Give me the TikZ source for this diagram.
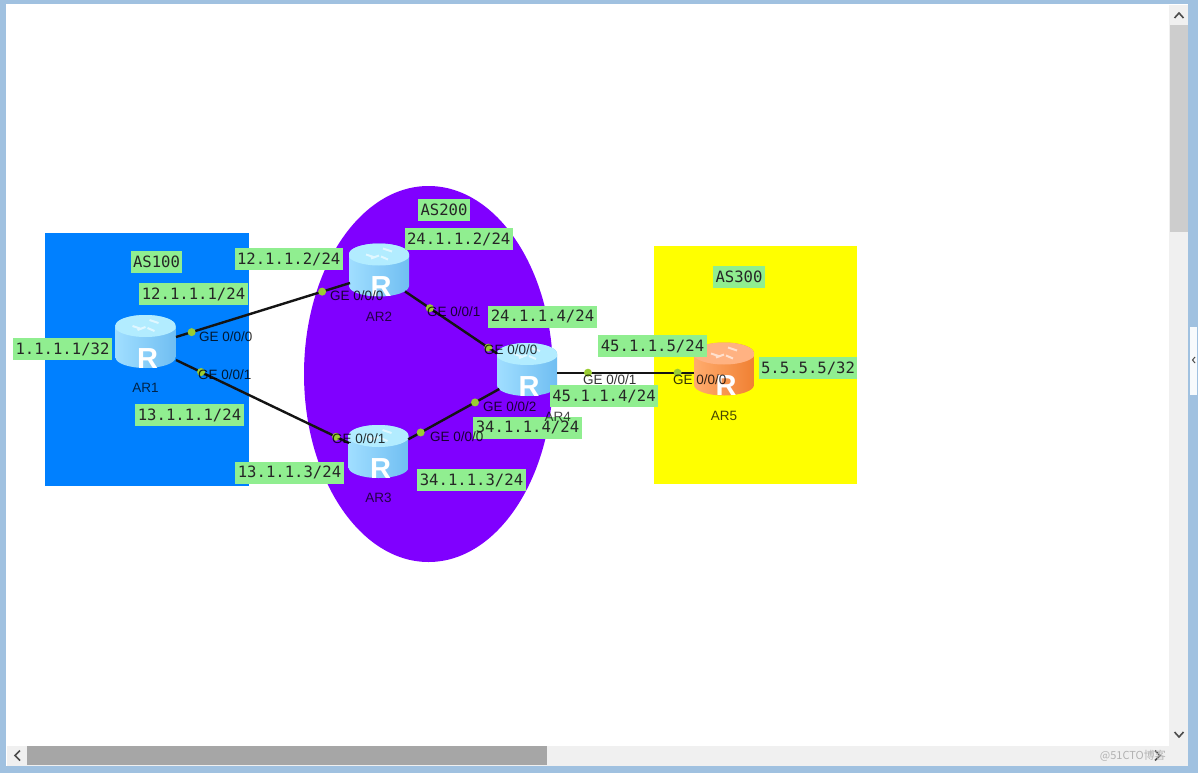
\documentclass[tikz,border=0pt]{standalone}
\usepackage{fontspec}
\setmainfont{Liberation Sans}
\setsansfont{Liberation Sans}
\newfontfamily\ipfont{DejaVu Sans Mono}
\newfontfamily\cjk{Noto Sans CJK SC}
\usetikzlibrary{positioning,shapes.geometric}
\definecolor{winB}{RGB}{160,193,224}
\definecolor{barG}{RGB}{240,240,240}
\definecolor{thumbV}{RGB}{205,205,205}
\definecolor{thumbH}{RGB}{166,166,166}
\definecolor{asBlue}{RGB}{0,128,255}
\definecolor{asPurple}{RGB}{128,0,255}
\definecolor{asYel}{RGB}{255,255,0}
\definecolor{ipG}{RGB}{144,238,144}
\definecolor{portG}{RGB}{154,205,50}
\definecolor{rtBlueL}{RGB}{160,222,255}
\definecolor{rtBlueR}{RGB}{112,190,242}
\definecolor{rtBlueT}{RGB}{178,236,255}
\definecolor{rtOrgL}{RGB}{255,172,110}
\definecolor{rtOrgR}{RGB}{240,128,50}
\definecolor{rtOrgT}{RGB}{255,178,130}

\begin{document}
\begin{tikzpicture}[x=1pt,y=-1pt,font=\sffamily]
  \tikzset{zone/.style={inner sep=0,outer sep=0},
    rtr/.style={cylinder,anchor=shape center,shape border rotate=90,aspect=.85,minimum width=60,minimum height=53,inner sep=0,outer sep=0,text=white,font=\bfseries\fontsize{29}{29}\selectfont,
      path picture={
        \shade[left color=#1L,right color=#1R] (path picture bounding box.south west) rectangle (path picture bounding box.north east);
        \fill[#1T] ([yshift=-11pt]path picture bounding box.north) ellipse [x radius=31pt,y radius=11pt];
        \draw[white,opacity=.6,line width=2pt] ([shift={(-13pt,-11pt)}]path picture bounding box.north) -- ++(9pt,-3pt) ([shift={(13pt,-8pt)}]path picture bounding box.north) -- ++(-9pt,3pt) ([shift={(-8pt,-15pt)}]path picture bounding box.north) -- ++(8pt,3pt) ([shift={(9pt,-16pt)}]path picture bounding box.north) -- ++(-7pt,3pt);
      }},
    link/.style={line width=2.4pt,black!92},
    port/.style={circle,fill=portG,inner sep=0,minimum size=8},
    ip/.style={fill=ipG,font=\ipfont\fontsize{15.6}{17}\selectfont,text=black!85,inner xsep=2.5,inner ysep=0,minimum height=22},
    ge/.style={anchor=west,inner sep=0,font=\sffamily\fontsize{13.5}{15}\selectfont,text=black,text opacity=.8},
    rname/.style={inner sep=0,font=\sffamily\fontsize{13.5}{15}\selectfont,text=black,text opacity=.72}}
  \useasboundingbox (0,0) rectangle (1198,773);
  % window
  \fill[winB] (0,0) rectangle (1198,773);
  \fill[white] (6,4) rectangle (1188,766);
  \fill[barG] (1169,5) rectangle (1188,746);
  \fill[barG] (7,746) rectangle (1188,766);
  \fill[thumbV] (1170,25) rectangle (1188,232);
  \fill[thumbH] (27,746) rectangle (547,765);
  \fill[white!92!winB] (1190,327) rectangle (1197,395);
  \draw[black!70,line width=1.6pt] (1174.5,18) -- (1179,13) -- (1183.5,18);
  \draw[black!70,line width=1.6pt] (1174.5,732) -- (1179,737) -- (1183.5,732);
  \draw[black!70,line width=1.6pt] (20,750.5) -- (15,755.5) -- (20,760.5);
  \draw[black!70,line width=1.6pt] (1155,750.5) -- (1160,755.5) -- (1155,760.5);
  \draw[black!70,line width=1pt] (1195,357) -- (1192.5,360) -- (1195,363);
  % AS areas
  \node[zone,fill=asBlue,minimum width=203.5,minimum height=253] (as100) at (146.75,359.5) {};
  \node[zone,ellipse,fill=asPurple,minimum width=249,minimum height=376] (as200) at (428.5,374) {};
  \node[zone,fill=asYel,minimum width=203,minimum height=238] (as300) at (755.5,365) {};
  % routers
  \foreach \n/\x/\y/\c in {ar1/145.5/341.5/rtBlue,ar2/379/270/rtBlue,ar3/378.5/451.5/rtBlue,ar4/527/369.5/rtBlue,ar5/724/369/rtOrg} {
    \node[rtr=\c] (\n) at (\x,\y) {\smash{\raisebox{-21.5pt}{\kern4pt R}}};
  }
  % links
  \foreach \a/\oa/\b/\ob/\pa/\pb in {ar1/{30.5,-4.5}/ar2/{-29,13}/.09/.84,ar1/{30.5,18.5}/ar3/{-29.5,-8.5}/.145/.925,ar2/{26,21.4}/ar4/{-30,-16}/.27/.905,ar3/{29.8,-12.2}/ar4/{-27.7,19.5}/.136/.733,ar4/{30,3.2}/ar5/{-30,3.7}/.226/.88} {
    \draw[link] ([shift={(\oa)}]\a.shape center) -- node[port,pos=\pa] (p\a\b a) {} node[port,pos=\pb] (p\a\b b) {} ([shift={(\ob)}]\b.shape center);
  }
  % addresses
  \foreach \t/\p [count=\i] in {AS100/{156.5,261.5},AS200/{444,210},AS300/{739,276.5},
    {12.1.1.2/24}/{288.7,259},{12.1.1.1/24}/{193.5,294},{1.1.1.1/32}/{62.5,349},{13.1.1.1/24}/{189.5,415},{13.1.1.3/24}/{289.5,472.5},
    {24.1.1.2/24}/{458.7,239},{24.1.1.4/24}/{542.5,316.5},{45.1.1.5/24}/{652.5,346},{45.1.1.4/24}/{604,396},
    {34.1.1.4/24}/{527.5,427.5},{34.1.1.3/24}/{471.5,480},{5.5.5.5/32}/{808,368}} {
    \node[ip] (ip\i) at (\p) {\t};
  }
  % interfaces
  \foreach \t/\p [count=\i] in {{GE 0/0/0}/{199,336.7},{GE 0/0/1}/{198,375},{GE 0/0/0}/{330,296},{GE 0/0/1}/{332,439},{GE 0/0/1}/{427,311.7},
    {GE 0/0/0}/{484,350},{GE 0/0/2}/{483,406.7},{GE 0/0/0}/{430,436.7},{GE 0/0/1}/{583,380},{GE 0/0/0}/{673,380}} {
    \node[ge] (ge\i) at (\p) {\t};
  }
  % router names
  \node[rname,below=15pt of ar1] (lbl1) {AR1};
  \node[rname,below=15pt of ar2] (lbl2) {AR2};
  \node[rname,below=15pt of ar3] (lbl3) {AR3};
  \node[rname,below right=18.5pt and -1.3pt of ar4] (lbl4) {AR4};
  \node[rname,below=16pt of ar5] (lbl5) {AR5};
  \node[text=black!30,inner sep=0,font=\cjk\fontsize{11}{14}\selectfont,anchor=east] (mark) at (1166,755.5) {@51CTO博客};
\end{tikzpicture}
\end{document}
